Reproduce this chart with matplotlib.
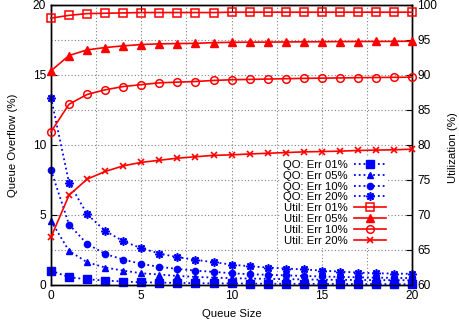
import matplotlib
matplotlib.use("Agg")
import matplotlib.pyplot as plt
from matplotlib.ticker import MultipleLocator

plt.rcParams['font.family'] = ['Liberation Sans', 'DejaVu Sans']
plt.rcParams['font.size'] = 8.2

queue_size = list(range(21))

# queue overflow (%), left axis
qo_01 = [1.02, 0.55, 0.40, 0.31, 0.24, 0.19, 0.16, 0.14, 0.12, 0.11, 0.10,
         0.09, 0.08, 0.08, 0.07, 0.07, 0.06, 0.06, 0.06, 0.05, 0.05]
qo_05 = [4.57, 2.43, 1.62, 1.24, 1.02, 0.83, 0.74, 0.64, 0.57, 0.52, 0.48,
         0.45, 0.43, 0.41, 0.39, 0.37, 0.36, 0.35, 0.34, 0.34, 0.33]
qo_10 = [8.21, 4.31, 2.93, 2.21, 1.81, 1.50, 1.29, 1.14, 1.02, 0.93, 0.83,
         0.76, 0.72, 0.68, 0.64, 0.60, 0.57, 0.54, 0.52, 0.50, 0.48]
qo_20 = [13.38, 7.31, 5.05, 3.86, 3.12, 2.62, 2.24, 1.98, 1.79, 1.62, 1.45,
         1.33, 1.24, 1.17, 1.10, 1.02, 0.95, 0.88, 0.83, 0.81, 0.79]

# utilization (%), right axis
ut_01 = [98.1, 98.5, 98.75, 98.8, 98.85, 98.9, 98.9, 98.9, 98.9, 98.9, 98.95,
         98.95, 98.95, 98.95, 98.95, 98.95, 98.95, 98.95, 98.95, 98.95, 98.95]
ut_05 = [90.57, 92.76, 93.57, 93.9, 94.14, 94.33, 94.43, 94.47, 94.5, 94.6, 94.65,
         94.67, 94.68, 94.7, 94.72, 94.73, 94.75, 94.76, 94.77, 94.78, 94.8]
ut_10 = [81.86, 85.8, 87.2, 87.86, 88.33, 88.6, 88.86, 88.96, 89.05, 89.2, 89.3,
         89.35, 89.4, 89.45, 89.5, 89.53, 89.56, 89.6, 89.62, 89.65, 89.67]
ut_20 = [66.8, 72.8, 75.1, 76.2, 77.0, 77.5, 77.8, 78.1, 78.3, 78.5, 78.57,
         78.7, 78.8, 78.9, 79.0, 79.05, 79.1, 79.2, 79.25, 79.3, 79.38]

blue = '#0000ff'
red = '#ff0000'

fig = plt.figure(figsize=(4.59, 3.23), dpi=100)
ax = fig.add_axes([0.111, 0.118, 0.787, 0.867])
ax2 = ax.twinx()

qo_kw = dict(color=blue, linestyle=':', linewidth=1.3, clip_on=False, zorder=3)
ax.plot(queue_size, qo_01, marker='s', markersize=5.5, label='QO: Err 01%', **qo_kw)
ax.plot(queue_size, qo_05, marker='^', markersize=4, label='QO: Err 05%', **qo_kw)
ax.plot(queue_size, qo_10, marker='o', markersize=4.5, label='QO: Err 10%', **qo_kw)
ax.plot(queue_size, qo_20, marker=(8, 2, 0), markersize=6, markeredgewidth=1.2,
        label='QO: Err 20%', **qo_kw)

ut_kw = dict(color=red, linestyle='-', linewidth=1.2, clip_on=False, zorder=3)
ax2.plot(queue_size, ut_01, marker='s', markersize=5.5, markerfacecolor='none',
         markeredgewidth=1.1, label='Util: Err 01%', **ut_kw)
ax2.plot(queue_size, ut_05, marker='^', markersize=5.5, label='Util: Err 05%', **ut_kw)
ax2.plot(queue_size, ut_10, marker='o', markersize=5.5, markerfacecolor='none',
         markeredgewidth=1.1, label='Util: Err 10%', **ut_kw)
ax2.plot(queue_size, ut_20, marker='x', markersize=5, markeredgewidth=1.2,
         label='Util: Err 20%', **ut_kw)

ax.set_xlim(0, 20)
ax.set_ylim(0, 20)
ax2.set_ylim(60, 100)
ax.xaxis.set_major_locator(MultipleLocator(5))
ax.xaxis.set_minor_locator(MultipleLocator(2.5))
ax.yaxis.set_major_locator(MultipleLocator(5))
ax.yaxis.set_minor_locator(MultipleLocator(2.5))
ax2.yaxis.set_major_locator(MultipleLocator(5))

ax.grid(True, which='both', color='#808080', linestyle=(0, (1, 2)), linewidth=0.8)
ax.set_axisbelow(True)

ax.tick_params(which='both', direction='in', top=True, length=4, width=0.8, labelsize=8.6)
ax.tick_params(which='minor', length=0)
ax2.tick_params(direction='in', length=4, width=0.8, labelsize=8.6)

ax.set_xlabel('Queue Size', labelpad=5)
ax.set_ylabel('Queue Overflow (%)', labelpad=11)
ax2.set_ylabel('Utilization (%)', rotation=90, va='center', ha='center',
               rotation_mode='anchor')
ax2.yaxis.set_label_coords(1.112, 0.49)

h1, l1 = ax.get_legend_handles_labels()
h2, l2 = ax2.get_legend_handles_labels()
leg = ax2.legend(h1 + h2, l1 + l2, loc='upper right', bbox_to_anchor=(0.934, 0.455),
                 borderaxespad=0, markerfirst=False, frameon=True, fancybox=False,
                 handlelength=2.8, labelspacing=0.08, handletextpad=0.6,
                 borderpad=0.2, fontsize=8.2)
leg.get_frame().set_edgecolor('none')
leg.get_frame().set_alpha(1)

for a in (ax, ax2):
    for s in a.spines.values():
        s.set_linewidth(1.0)

fig.savefig('out.png', dpi=100)
